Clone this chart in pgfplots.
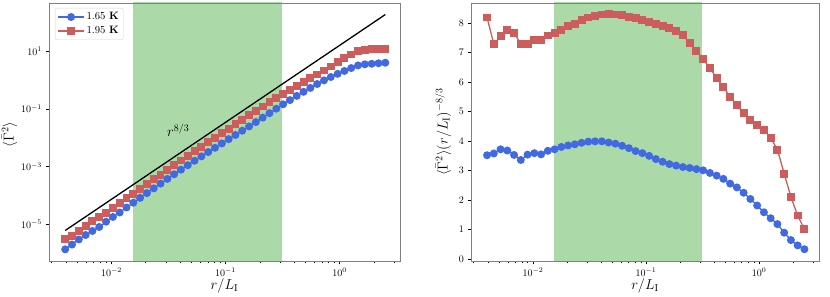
\documentclass[border=0pt]{standalone}
\usepackage{pgfplots}
\usepackage{pgfplotstable}
\pgfplotsset{compat=1.18}
\definecolor{cblue}{RGB}{65,105,225}
\definecolor{cred}{RGB}{205,92,92}
\definecolor{band}{RGB}{172,217,168}
\definecolor{framec}{RGB}{128,128,128}

% r, left-panel values (bl, rd), right-panel compensated values (blc, rdc)
\pgfplotstableread{
r bl rd blc rdc
0.003936 1.3594e-6 3.1591e-6 3.52 8.18
0.004515 1.9941e-6 4.0550e-6 3.58 7.28
0.005180 2.9898e-6 6.0599e-6 3.72 7.54
0.005944 4.2666e-6 8.9854e-6 3.68 7.75
0.006820 5.9057e-6 1.2815e-5 3.53 7.66
0.007825 8.1110e-6 1.7598e-5 3.36 7.29
0.008979 1.2330e-5 2.5391e-5 3.54 7.29
0.010302 1.8040e-5 3.7286e-5 3.59 7.42
0.011820 2.5734e-5 5.3715e-5 3.55 7.41
0.013562 3.8388e-5 7.9182e-5 3.67 7.57
0.015560 5.6135e-5 1.1544e-4 3.72 7.65
0.017853 8.2726e-5 1.6915e-4 3.80 7.77
0.020483 1.2093e-4 2.4782e-4 3.85 7.89
0.023502 1.7629e-4 3.6120e-4 3.89 7.97
0.026966 2.5764e-4 5.2901e-4 3.94 8.09
0.030940 3.7547e-4 7.7170e-4 3.98 8.18
0.035498 5.4304e-4 1.1215e-3 3.99 8.24
0.040728 7.8364e-4 1.6262e-3 3.99 8.28
0.046731 1.1190e-3 2.3486e-3 3.95 8.29
0.053617 1.5984e-3 3.3849e-3 3.91 8.28
0.061518 2.2648e-3 4.8717e-3 3.84 8.26
0.070583 3.1994e-3 6.9859e-3 3.76 8.21
0.080984 4.4945e-3 1.0020e-2 3.66 8.16
0.092916 6.3579e-3 1.4345e-2 3.59 8.10
0.10661 8.9460e-3 2.0525e-2 3.50 8.03
0.12232 1.2499e-2 2.9385e-2 3.39 7.97
0.14034 1.7556e-2 4.2028e-2 3.30 7.90
0.16103 2.4714e-2 6.0019e-2 3.22 7.82
0.18476 3.5092e-2 8.5571e-2 3.17 7.73
0.21199 4.9858e-2 0.12129 3.12 7.59
0.24322 7.1225e-2 0.16873 3.09 7.32
0.27906 0.10144 0.23482 3.05 7.06
0.32018 0.14442 0.32482 3.01 6.77
0.36736 0.20215 0.44792 2.92 6.47
0.42150 0.28269 0.61233 2.83 6.13
0.48362 0.39195 0.83866 2.72 5.82
0.55488 0.53222 1.14345 2.56 5.50
0.63665 0.72900 1.56300 2.43 5.21
0.73045 0.97380 2.13803 2.25 4.94
0.83808 1.27398 2.94764 2.04 4.72
0.96161 1.63982 4.09054 1.82 4.54
1.1033 2.06684 5.69356 1.59 4.38
1.2659 2.60695 7.70831 1.39 4.11
1.4524 3.21990 10.0385 1.19 3.71
1.6664 3.51351 11.3213 0.90 2.90
1.9120 3.66106 11.8844 0.65 2.11
2.1937 3.81941 12.0271 0.47 1.48
2.5172 3.98650 11.9595 0.34 1.02
}\data

\newcommand{\labfont}{\fontsize{14.5}{17}\selectfont}
\newcommand{\tickfont}{\fontsize{10.4}{12.5}\selectfont}

\begin{document}
\begin{tikzpicture}
\useasboundingbox (0,0) rectangle (830pt,297pt);
% ---------------- left panel ----------------
\begin{axis}[
  scale only axis, width=351pt, height=258pt,
  at={(49pt,36pt)}, anchor=south west,
  axis on top, tick pos=left, tick align=outside,
  major tick length=3.5pt, minor tick length=2pt,
  every tick/.style={black, line width=0.5pt},
  axis line style={framec, line width=0.9pt},
  tick label style={font=\tickfont},
  xmode=log, xmin=0.002838, xmax=3.388,
  xtick={0.01,0.1,1},
  minor xtick={0.003,0.004,0.005,0.006,0.007,0.008,0.009,0.02,0.03,0.04,0.05,0.06,0.07,0.08,0.09,0.2,0.3,0.4,0.5,0.6,0.7,0.8,0.9,2,3},
  xlabel={$r/L_\mathrm{I}$},
  xlabel style={font=\labfont, at={(axis description cs:0.5,0)}, anchor=base, yshift=-28.5pt},
  ymode=log, ymin=5.37e-7, ymax=467.7,
  ytick={1e-5,1e-3,1e-1,1e1}, yminorticks=false,
  ylabel={$\langle \bar{\Gamma}^2 \rangle$},
  ylabel style={font=\labfont, at={(axis description cs:-0.1125,0.49)}, anchor=center},
  legend style={at={(0.017,0.981)}, anchor=north west, draw={rgb,255:red,210;green,210;blue,210},
    rounded corners=2pt, font=\fontsize{10.7}{13}\selectfont, inner sep=2.5pt, row sep=1pt},
  legend cell align=left,
  legend image code/.code={\draw[mark repeat=2,mark phase=2,#1] plot coordinates {(0cm,0cm) (0.45cm,0cm) (0.9cm,0cm)};},
]
\addplot[draw=none, fill=band, forget plot] coordinates {(0.0155,1e-8) (0.0155,1e4) (0.31,1e4) (0.31,1e-8)} -- cycle;
\addplot[black, line width=1.3pt, forget plot] coordinates {(0.003936,6.118e-6) (2.5172,185.8)};
\addplot[cblue, line width=1.3pt, mark=*, mark size=3.3pt, mark options={solid, fill=cblue, draw=cblue}] table[x=r, y=bl]{\data};
\addlegendentry{1.65 \textbf{K}}
\addplot[cred, line width=1.3pt, mark=square*, mark size=3.3pt, mark options={solid, fill=cred, draw=cred}] table[x=r, y=rd]{\data};
\addlegendentry{1.95 \textbf{K}}
\node[font=\fontsize{14.5}{17}\selectfont] at (axis cs:0.0385,0.0186) {$r^{8/3}$};
\end{axis}
% ---------------- right panel ----------------
\begin{axis}[
  scale only axis, width=348pt, height=258pt,
  at={(471pt,36pt)}, anchor=south west,
  axis on top, tick pos=left, tick align=outside,
  major tick length=3.5pt, minor tick length=2pt,
  every tick/.style={black, line width=0.5pt},
  axis line style={framec, line width=0.9pt},
  tick label style={font=\tickfont},
  xmode=log, xmin=0.002838, xmax=3.388,
  xtick={0.01,0.1,1},
  minor xtick={0.003,0.004,0.005,0.006,0.007,0.008,0.009,0.02,0.03,0.04,0.05,0.06,0.07,0.08,0.09,0.2,0.3,0.4,0.5,0.6,0.7,0.8,0.9,2,3},
  xlabel={$r/L_\mathrm{I}$},
  xlabel style={font=\labfont, at={(axis description cs:0.5,0)}, anchor=base, yshift=-28.5pt},
  ymin=-0.058, ymax=8.67,
  ytick={0,1,2,3,4,5,6,7,8},
  ylabel={$\langle \bar{\Gamma}^2 \rangle (r/L_\mathrm{I})^{-8/3}$},
  ylabel style={font=\labfont, at={(axis description cs:-0.0805,0.5)}, anchor=center},
]
\addplot[draw=none, fill=band, forget plot] coordinates {(0.0155,-1) (0.0155,10) (0.31,10) (0.31,-1)} -- cycle;
\addplot[cred, line width=1.3pt, mark=square*, mark size=3.3pt, mark options={solid, fill=cred, draw=cred}] table[x=r, y=rdc]{\data};
\addplot[cblue, line width=1.3pt, mark=*, mark size=3.3pt, mark options={solid, fill=cblue, draw=cblue}] table[x=r, y=blc]{\data};
\end{axis}
\end{tikzpicture}
\end{document}
